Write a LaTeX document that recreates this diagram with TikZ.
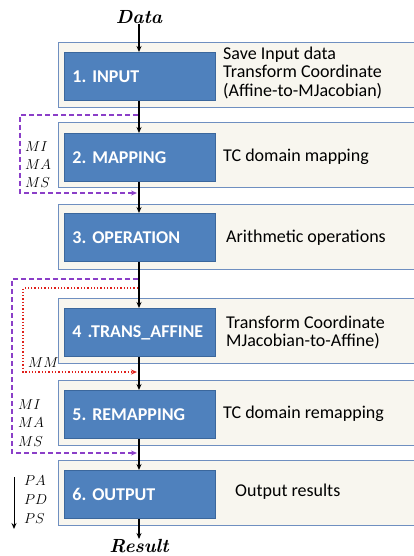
\documentclass[tikz,border=0pt]{standalone}
\usepackage{fontspec}
\setsansfont{Carlito}
\usetikzlibrary{arrows.meta}
\frenchspacing
\definecolor{panelfill}{HTML}{F8F6EF}
\definecolor{panelline}{HTML}{6F8FC0}
\definecolor{boxfill}{HTML}{4F81BD}
\definecolor{boxline}{HTML}{3B679C}
\definecolor{loopviolet}{HTML}{8B3FC8}
\definecolor{loopred}{HTML}{E0201B}
\tikzset{
  panel/.style={draw=panelline, line width=1pt, fill=panelfill, minimum width=356pt, minimum height=65pt, anchor=north west, inner sep=0pt},
  stage/.style={draw=boxline, line width=0.8pt, fill=boxfill, minimum width=151pt, minimum height=48pt, anchor=north west, inner sep=0pt, text=white, font=\sffamily\bfseries\fontsize{18}{20}\selectfont, align=left, text width=135pt},
  desc/.style={anchor=west, font=\sffamily\fontsize{18}{18}\selectfont, align=left, inner sep=0pt},
  flow/.style={-{Stealth[length=6pt,width=5pt]}, line width=1.1pt},
  vloop/.style={loopviolet, dash pattern=on 5pt off 3pt, line width=1.2pt, -{Stealth[length=6pt,width=5pt]}},
  rloop/.style={loopred, dotted, line width=1.3pt, -{Stealth[length=6pt,width=5pt]}},
  varl/.style={font=\fontsize{14}{15}\selectfont, inner sep=0pt, anchor=west},
  endl/.style={font=\bfseries\itshape\fontsize{19}{20}\selectfont, inner sep=0pt}
}
\begin{document}
\begin{tikzpicture}[x=1pt,y=-1pt]
\useasboundingbox (0,0) rectangle (413,556);
% panels
\node[panel] (p1) at (58,42) {};
\node[panel] (p2) at (58,122) {};
\node[panel] (p3) at (58,204) {};
\node[panel] (p4) at (58,298) {};
\node[panel] (p5) at (58,380) {};
\node[panel] (p6) at (58,460) {};
% stages
\node[stage] (s1) at (64,52) {1. INPUT};
\node[stage] (s2) at (64,133) {2. MAPPING};
\node[stage] (s3) at (64,213) {3. OPERATION};
\node[stage] (s4) at (64,308) {4 .TRANS\_AFFINE};
\node[stage] (s5) at (64,390) {5. REMAPPING};
\node[stage] (s6) at (64,470) {6. OUTPUT};
% descriptions
\node[desc] (d1) at (223,73) {Save Input data\\Transform Coordinate\\(Affine-to-MJacobian)};
\node[desc] (d2) at (223,157) {TC domain mapping};
\node[desc] (d3) at (226,238) {Arithmetic operations};
\node[desc] (d4) at (226,332) {Transform Coordinate\\MJacobian-to-Affine)};
\node[desc] (d5) at (223,414) {TC domain remapping};
\node[desc] (d6) at (235,492) {Output results};
% ends
\node[endl] (data) at (139,17) {Data};
\node[endl] (result) at (139,546) {Result};
% main flow
\draw[flow] (data.south) -- (s1.north -| data.south);
\draw[flow] (s1.south -| data.south) -- (s2.north -| data.south);
\draw[flow] (s2.south -| data.south) -- (s3.north -| data.south);
\draw[flow] (s3.south -| data.south) -- (s4.north -| data.south);
\draw[flow] (s4.south -| data.south) -- (s5.north -| data.south);
\draw[flow] (s5.south -| data.south) -- (s6.north -| data.south);
\draw[flow] (s6.south -| data.south) -- (result.north);
% loops
\coordinate (a1) at (138,115);
\coordinate (a2) at (137,193);
\draw[vloop] (a1) -- (20,115) -- (20,193) -- (a2);
\coordinate (b1) at (138,279);
\coordinate (b2) at (137,453);
\draw[vloop] (b1) -- (12,279) -- (12,453) -- (b2);
\coordinate (c1) at (138,288);
\coordinate (c2) at (137,372);
\draw[rloop] (c1) -- (23,288) -- (23,372) -- (c2);
% variable labels
\node[varl] (mi1) at (25,147) {$MI$};
\node[varl] (ma1) at (25,165) {$MA$};
\node[varl] (ms1) at (25,183) {$MS$};
\node[varl] (mm) at (28,363) {$MM$};
\node[varl] (mi2) at (18,405) {$MI$};
\node[varl] (ma2) at (18,423) {$MA$};
\node[varl] (ms2) at (18,442) {$MS$};
\node[varl] (pa) at (24,481) {$PA$};
\node[varl] (pd) at (24,500) {$PD$};
\node[varl] (ps) at (24,519) {$PS$};
\coordinate (pt) at (14,477);
\coordinate (pb) at (14,529);
\draw[flow, line width=1pt] (pt) -- (pb);
\end{tikzpicture}
\end{document}
